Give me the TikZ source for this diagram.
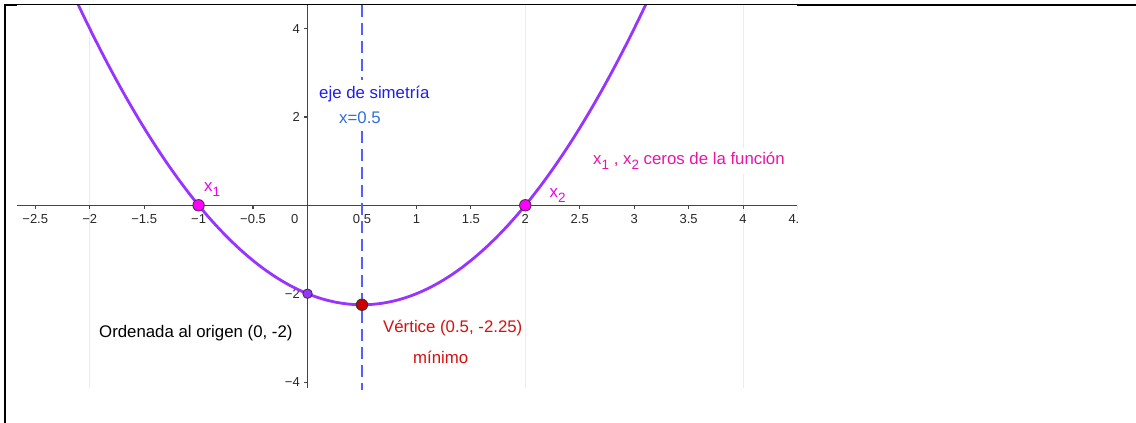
\documentclass[tikz,border=0pt]{standalone}
\usepackage{fontspec}
\setmainfont{Liberation Sans}
\definecolor{curvecol}{RGB}{153,51,255}
\definecolor{symcol}{RGB}{85,95,255}
\definecolor{zerocol}{RGB}{255,0,255}
\definecolor{zerotxt}{RGB}{240,0,230}
\definecolor{cerostxt}{RGB}{235,20,170}
\definecolor{ejetxt}{RGB}{30,30,240}
\definecolor{xtxt}{RGB}{50,110,220}
\definecolor{redtxt}{RGB}{215,15,15}
\definecolor{vertcol}{RGB}{204,0,0}
\definecolor{axiscol}{RGB}{70,70,70}
\definecolor{gridcol}{RGB}{236,236,236}
\definecolor{ticktxt}{RGB}{40,40,40}
\newcommand\lblfont{\fontsize{16.8}{20}\selectfont}
\newcommand\tickfont{\fontsize{13}{15}\selectfont}
\newcommand\subfont{\fontsize{13.5}{15}\selectfont}
\newcommand\sub[1]{\raisebox{-5pt}{\subfont #1}}
\tikzset{
  axisline/.style={draw=axiscol, line width=1.2pt},
  gridline/.style={draw=gridcol, line width=1pt},
  curveline/.style={draw=curvecol, line width=2.8pt},
  symline/.style={draw=symcol, line width=2.6pt, dash pattern=on 12pt off 6pt},
  ptbase/.style={circle, inner sep=0pt, draw=black!80, line width=0.8pt},
  zeropt/.style={ptbase, minimum size=11.5pt, fill=zerocol},
  interpt/.style={ptbase, minimum size=9.5pt, fill=curvecol},
  vertpt/.style={ptbase, minimum size=11.5pt, fill=vertcol},
  ticklbl/.style={inner sep=0pt, text=ticktxt, font=\tickfont},
  lbl/.style={inner sep=0pt, font=\lblfont},
  bglbl/.style={lbl, fill=white, inner xsep=2pt, inner ysep=4pt},
  border/.style={draw=black, line width=2.2pt},
  thinborder/.style={draw=black, line width=0.9pt}
}
\begin{document}
\begin{tikzpicture}[x=1pt,y=-1pt]
\useasboundingbox (0,0) rectangle (1136,423);
\fill[white] (0,0) rectangle (1136,423);
% origin (307.5,205.3), units 108.9 (x) and 44.2 (y)
\begin{scope}
\clip (17,5) rectangle (797,423);
% grid
\foreach \gx in {-2,2,4}
  \draw[gridline] ({307.5+108.9*\gx},5) -- ({307.5+108.9*\gx},388);
% axes
\draw[axisline] (17,205.3) -- (797,205.3);
\draw[axisline] (307.5,5) -- (307.5,388);
% x ticks and labels
\foreach \v/\t in {-2.5/−2.5,-2/−2,-1.5/−1.5,-1/−1,-0.5/−0.5,0.5/0.5,1/1,1.5/1.5,2/2,2.5/2.5,3/3,3.5/3.5,4/4,4.5/4.5}{
  \draw[axisline] ({307.5+108.9*\v},205.3) -- ({307.5+108.9*\v},208.8);
  \node[ticklbl, anchor=base] (xt\v) at ({307.5+108.9*\v},223) {\t};
}
\node[ticklbl, anchor=base east] (xt0) at (298.5,223) {0};
% y ticks and labels
\foreach \v/\t in {4/4,2/2,-2/−2,-4/−4}{
  \draw[axisline] (304,{205.3-44.2*\v}) -- (307.5,{205.3-44.2*\v});
  \node[ticklbl, anchor=base east] (yt\v) at (300,{205.3-44.2*\v+4.6}) {\t};
}
% axis of symmetry
\draw[symline] ({307.5+108.9*0.5},5) -- ({307.5+108.9*0.5},390);
% parabola
\draw[curveline] plot[domain=-2.35:3.35, samples=160, smooth]
  ({307.5+108.9*\x}, {205.3-44.2*(\x*\x-\x-2)});
\end{scope}
% points
\node[zeropt] (x1) at ({307.5-108.9},205.3) {};
\node[zeropt] (x2) at ({307.5+108.9*2},205.3) {};
\node[interpt] (yint) at (307.5,{205.3+44.2*2}) {};
\node[vertpt] (vert) at ({307.5+108.9*0.5},{205.3+44.2*2.25}) {};
% labels
\node[lbl, text=zerotxt, anchor=base west] (lx1) at (204,191) {x\sub{1}};
\node[lbl, text=zerotxt, anchor=base west] (lx2) at (549.5,197) {x\sub{2}};
\node[bglbl, text=cerostxt, anchor=base west] (ceros) at (591,164.5) {x\sub{1} , x\sub{2} ceros de la función};
\node[bglbl, inner ysep=6pt, text=ejetxt, anchor=base west] (eje) at (317,98.5) {eje de simetría};
\node[bglbl, inner ysep=5pt, text=xtxt, anchor=base west] (xeq) at (337,123) {x=0.5};
\node[bglbl, text=black, anchor=base west] (ord) at (97,337.5) {Ordenada al origen (0, -2)};
\node[bglbl, text=redtxt, anchor=base west] (vtx) at (381,332) {Vértice (0.5, -2.25)};
\node[bglbl, text=redtxt, anchor=base west] (mini) at (411,363) {mínimo};
% frame
\draw[border] (5,4) -- (5,423);
\draw[border] (4,5) -- (17,5);
\draw[thinborder] (17,4.5) -- (797,4.5);
\draw[border] (797,5) -- (1136,5);
\end{tikzpicture}
\end{document}
